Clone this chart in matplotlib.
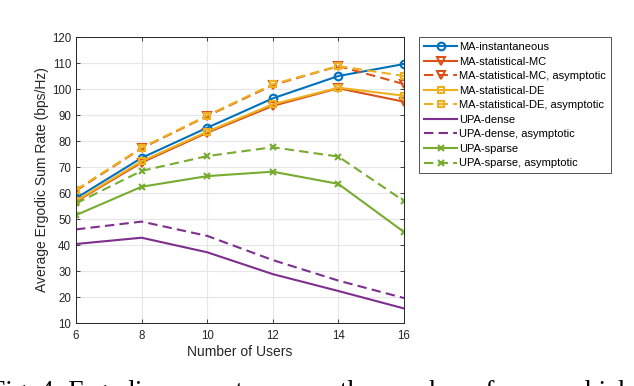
import matplotlib
matplotlib.use("Agg")
import matplotlib.pyplot as plt

users = [6, 8, 10, 12, 14, 16]

ma_inst = [58.0, 73.5, 85.1, 96.4, 105.0, 109.6]
ma_mc = [56.7, 71.7, 83.2, 93.5, 100.3, 95.1]
ma_mc_asym = [60.9, 77.2, 89.6, 101.5, 108.8, 101.9]
ma_de = [57.0, 72.2, 83.6, 94.1, 100.5, 97.4]
ma_de_asym = [61.2, 77.4, 89.8, 101.8, 108.8, 105.0]
upa_dense = [40.4, 42.8, 37.2, 28.8, 22.3, 15.6]
upa_dense_asym = [46.0, 49.0, 43.5, 34.2, 26.3, 19.6]
upa_sparse = [51.5, 62.4, 66.5, 68.2, 63.5, 45.0]
upa_sparse_asym = [56.0, 68.5, 74.2, 77.6, 74.0, 56.9]

labels = [
    "MA-instantaneous",
    "MA-statistical-MC",
    "MA-statistical-MC, asymptotic",
    "MA-statistical-DE",
    "MA-statistical-DE, asymptotic",
    "UPA-dense",
    "UPA-dense, asymptotic",
    "UPA-sparse",
    "UPA-sparse, asymptotic",
]

BLUE = "#0072BD"
ORANGE = "#D95319"
YELLOW = "#EDB120"
PURPLE = "#7E2F8E"
GREEN = "#77AC30"

plt.rcParams["font.family"] = ["Liberation Sans", "DejaVu Sans"]

fig = plt.figure(figsize=(6.34, 3.86), dpi=100)
ax = fig.add_axes([76 / 634, 1 - 323 / 386, (404 - 76) / 634, (323 - 37) / 386])

lw = 1.5
dash = (0, (4.5, 2.5))
series = [
    (ma_inst, BLUE, "-", "o", 5.5),
    (ma_mc, ORANGE, "-", "v", 6),
    (ma_mc_asym, ORANGE, dash, "v", 6),
    (ma_de, YELLOW, "-", "s", 5),
    (ma_de_asym, YELLOW, dash, "s", 5),
    (upa_dense, PURPLE, "-", None, 5),
    (upa_dense_asym, PURPLE, dash, None, 5),
    (upa_sparse, GREEN, "-", "x", 4.5),
    (upa_sparse_asym, GREEN, dash, "x", 4.5),
]
for (vals, col, ls, mk, ms), lab in zip(series, labels):
    ax.plot(users, vals, color=col, linestyle=ls, linewidth=lw, marker=mk,
            markersize=ms, markerfacecolor="none", markeredgewidth=1.5,
            label=lab)

ax.set_xlim(6, 16)
ax.set_ylim(10, 120)
ax.set_xticks(users)
ax.set_yticks(range(10, 121, 10))
ax.grid(True, color="#e6e6e6", linewidth=0.8)
ax.set_axisbelow(True)
ax.tick_params(direction="in", top=True, right=True, length=3,
               labelsize=8.3, colors="#262626", width=0.6)
ax.tick_params(axis="x", pad=5)
for s in ax.spines.values():
    s.set_color("#262626")
    s.set_linewidth(0.7)
ax.set_xlabel("Number of Users", fontsize=10, color="#262626", labelpad=2)
ax.set_ylabel("Average Ergodic Sum Rate (bps/Hz)", fontsize=10,
              color="#262626", labelpad=2)

leg = fig.legend(loc="upper left", bbox_to_anchor=(419 / 634, 1 - 37 / 386),
                 fontsize=8, frameon=True, fancybox=False, handlelength=3.0,
                 handletextpad=0.15, labelspacing=0.41, borderpad=0.45,
                 borderaxespad=0)
leg.get_frame().set_edgecolor("#262626")
leg.get_frame().set_linewidth(0.7)

fig.text(-10 / 634, -13 / 386,
         "Fig. 4: Ergodic sum rate versus the number of users which",
         family="Liberation Serif", fontsize=19.8, va="baseline", ha="left")

fig.savefig("out.png", dpi=100)
